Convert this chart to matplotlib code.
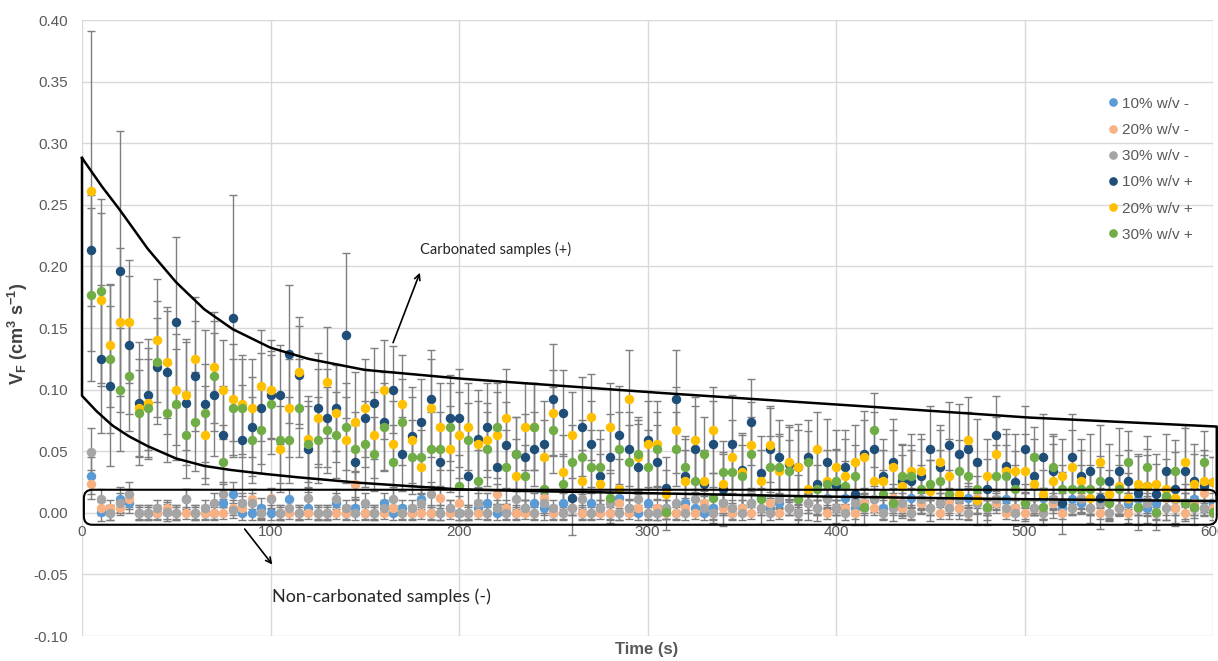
import numpy as np
import matplotlib
matplotlib.use("Agg")
import matplotlib.pyplot as plt
from matplotlib.patches import FancyBboxPatch

plt.rcParams['font.family'] = ['Liberation Sans', 'DejaVu Sans']
plt.rcParams['mathtext.fontset'] = 'custom'
plt.rcParams['mathtext.rm'] = 'Liberation Sans:bold'
plt.rcParams['mathtext.it'] = 'Liberation Sans:bold'
plt.rcParams['mathtext.bf'] = 'Liberation Sans:bold'
plt.rcParams['mathtext.default'] = 'rm'

# sampling times (s)
time_s = np.arange(5, 601, 5)

# 10% w/v - (non-carbonated)
v10_minus = [0.030, 0.001, 0.000, 0.011, 0.008, 0.000, 0.000, 0.000, 0.001, 0.000,
             0.011, 0.000, 0.000, 0.000, 0.008, 0.015, 0.000, 0.000, 0.004, 0.000,
             0.000, 0.011, 0.000, 0.004, 0.000, 0.000, 0.008, 0.000, 0.004, 0.000,
             0.000, 0.008, 0.000, 0.004, 0.000, 0.011, 0.000, 0.000, 0.004, 0.000,
             0.000, 0.004, 0.008, 0.000, 0.001, 0.000, 0.004, 0.008, 0.004, 0.000,
             0.008, 0.004, 0.000, 0.008, 0.004, 0.000, 0.012, 0.004, 0.000, 0.008,
             0.000, 0.004, 0.000, 0.008, 0.004, 0.000, 0.004, 0.008, 0.000, 0.004,
             0.008, 0.012, 0.004, 0.008, 0.004, 0.011, 0.008, 0.004, 0.012, 0.004,
             0.012, 0.004, 0.008, 0.011, 0.004, 0.008, 0.004, 0.012, 0.008, 0.004,
             0.008, 0.011, 0.004, 0.012, 0.008, 0.004, 0.008, 0.011, 0.004, 0.008,
             0.004, 0.012, 0.008, 0.004, 0.011, 0.008, 0.004, 0.012, 0.008, 0.004,
             0.008, 0.011, 0.004, 0.008, 0.012, 0.004, 0.008, 0.011, 0.004, 0.008]
e10_minus = [0.015, 0.008, 0.006, 0.010, 0.008, 0.006, 0.006, 0.006, 0.008, 0.006,
             0.008, 0.006, 0.006, 0.006, 0.008, 0.010, 0.006, 0.006, 0.008, 0.006,
             0.006, 0.008, 0.006, 0.006, 0.006, 0.006, 0.008, 0.006, 0.006, 0.006,
             0.006, 0.008, 0.006, 0.006, 0.006, 0.008, 0.006, 0.006, 0.006, 0.006,
             0.006, 0.006, 0.008, 0.006, 0.006, 0.006, 0.006, 0.008, 0.006, 0.006,
             0.008, 0.006, 0.006, 0.008, 0.006, 0.006, 0.008, 0.006, 0.006, 0.008,
             0.006, 0.006, 0.006, 0.008, 0.006, 0.006, 0.006, 0.008, 0.006, 0.006,
             0.008, 0.008, 0.006, 0.008, 0.006, 0.008, 0.008, 0.006, 0.008, 0.006,
             0.008, 0.006, 0.008, 0.008, 0.006, 0.008, 0.006, 0.008, 0.008, 0.006,
             0.008, 0.008, 0.006, 0.008, 0.008, 0.006, 0.008, 0.008, 0.006, 0.008,
             0.006, 0.008, 0.008, 0.006, 0.008, 0.008, 0.006, 0.008, 0.008, 0.006,
             0.008, 0.008, 0.006, 0.008, 0.008, 0.006, 0.008, 0.008, 0.006, 0.008]

# 20% w/v - (non-carbonated)
v20_minus = [0.023, 0.004, 0.004, 0.004, 0.011, 0.000, 0.000, 0.000, 0.004, 0.000,
             0.000, 0.000, 0.000, 0.000, 0.000, 0.004, 0.004, 0.011, 0.000, 0.012,
             0.000, 0.000, 0.000, 0.000, 0.000, 0.000, 0.000, 0.000, 0.023, 0.000,
             0.000, 0.000, 0.004, 0.000, 0.000, 0.000, 0.000, 0.012, 0.000, 0.008,
             0.000, 0.000, 0.000, 0.015, 0.004, 0.000, 0.000, 0.000, 0.012, 0.000,
             0.000, 0.004, 0.000, 0.000, 0.000, 0.000, 0.008, 0.000, 0.004, 0.000,
             0.004, 0.000, 0.000, 0.004, 0.000, 0.008, 0.000, 0.004, 0.000, 0.004,
             0.000, 0.004, 0.008, 0.000, 0.004, 0.000, 0.008, 0.004, 0.000, 0.004,
             0.004, 0.000, 0.008, 0.004, 0.000, 0.012, 0.004, 0.000, 0.008, 0.004,
             0.000, 0.008, 0.004, 0.000, 0.012, 0.004, 0.008, 0.000, 0.004, 0.000,
             0.004, 0.000, 0.008, 0.000, 0.004, 0.012, 0.004, 0.000, 0.008, 0.004,
             0.000, 0.004, 0.008, 0.000, 0.012, 0.004, 0.000, 0.008, 0.016, 0.004]
e20_minus = [0.012, 0.006, 0.006, 0.006, 0.008, 0.005, 0.005, 0.005, 0.006, 0.005,
             0.005, 0.005, 0.005, 0.005, 0.005, 0.006, 0.006, 0.008, 0.005, 0.008,
             0.005, 0.005, 0.005, 0.005, 0.005, 0.005, 0.005, 0.005, 0.010, 0.005,
             0.005, 0.005, 0.006, 0.005, 0.005, 0.005, 0.005, 0.008, 0.005, 0.006,
             0.005, 0.005, 0.005, 0.008, 0.006, 0.005, 0.005, 0.005, 0.008, 0.005,
             0.005, 0.006, 0.005, 0.005, 0.005, 0.005, 0.006, 0.005, 0.006, 0.005,
             0.006, 0.005, 0.005, 0.006, 0.005, 0.006, 0.005, 0.006, 0.005, 0.006,
             0.005, 0.006, 0.006, 0.005, 0.006, 0.005, 0.006, 0.006, 0.005, 0.006,
             0.006, 0.005, 0.006, 0.006, 0.005, 0.008, 0.006, 0.005, 0.006, 0.006,
             0.005, 0.006, 0.006, 0.005, 0.008, 0.006, 0.006, 0.005, 0.006, 0.005,
             0.006, 0.005, 0.006, 0.005, 0.006, 0.008, 0.006, 0.005, 0.006, 0.006,
             0.005, 0.006, 0.006, 0.005, 0.008, 0.006, 0.005, 0.006, 0.008, 0.006]

# 30% w/v - (non-carbonated)
v30_minus = [0.049, 0.011, 0.000, 0.008, 0.015, 0.000, 0.000, 0.004, 0.001, 0.000,
             0.011, 0.000, 0.004, 0.008, 0.015, 0.002, 0.008, 0.008, 0.000, 0.011,
             0.000, 0.004, 0.000, 0.012, 0.000, 0.000, 0.011, 0.004, 0.000, 0.008,
             0.000, 0.004, 0.011, 0.000, 0.004, 0.008, 0.015, 0.000, 0.004, 0.000,
             0.000, 0.008, 0.000, 0.004, 0.000, 0.011, 0.004, 0.000, 0.008, 0.004,
             0.000, 0.004, 0.011, 0.000, 0.004, 0.008, 0.000, 0.004, 0.011, 0.000,
             0.000, 0.004, 0.008, 0.000, 0.011, 0.004, 0.000, 0.008, 0.004, 0.000,
             0.008, 0.004, 0.000, 0.011, 0.004, 0.000, 0.008, 0.004, 0.011, 0.004,
             0.000, 0.008, 0.004, 0.011, 0.000, 0.004, 0.008, 0.000, 0.011, 0.004,
             0.008, 0.004, 0.011, 0.000, 0.008, 0.004, 0.011, 0.004, 0.000, 0.008,
             0.004, 0.000, 0.011, 0.008, 0.004, 0.011, 0.004, 0.008, 0.000, 0.004,
             0.011, 0.004, 0.008, 0.000, 0.004, 0.011, 0.008, 0.004, 0.004, 0.000]
e30_minus = [0.020, 0.008, 0.006, 0.008, 0.010, 0.006, 0.006, 0.006, 0.006, 0.006,
             0.008, 0.006, 0.006, 0.008, 0.010, 0.006, 0.008, 0.008, 0.006, 0.008,
             0.006, 0.006, 0.006, 0.008, 0.006, 0.006, 0.008, 0.006, 0.006, 0.008,
             0.006, 0.006, 0.008, 0.006, 0.006, 0.008, 0.010, 0.006, 0.006, 0.006,
             0.006, 0.008, 0.006, 0.006, 0.006, 0.008, 0.006, 0.006, 0.008, 0.006,
             0.006, 0.006, 0.008, 0.006, 0.006, 0.008, 0.006, 0.006, 0.008, 0.006,
             0.006, 0.006, 0.008, 0.006, 0.008, 0.006, 0.006, 0.008, 0.006, 0.006,
             0.008, 0.006, 0.006, 0.008, 0.006, 0.006, 0.008, 0.006, 0.008, 0.006,
             0.006, 0.008, 0.006, 0.008, 0.006, 0.006, 0.008, 0.006, 0.008, 0.006,
             0.008, 0.006, 0.008, 0.006, 0.008, 0.006, 0.008, 0.006, 0.006, 0.008,
             0.006, 0.006, 0.008, 0.008, 0.006, 0.008, 0.006, 0.008, 0.006, 0.006,
             0.008, 0.006, 0.008, 0.006, 0.006, 0.008, 0.008, 0.006, 0.006, 0.006]

# 10% w/v + (carbonated)
v10_plus = [0.213, 0.125, 0.103, 0.196, 0.136, 0.089, 0.096, 0.118, 0.114, 0.155,
            0.089, 0.111, 0.088, 0.096, 0.063, 0.158, 0.059, 0.070, 0.085, 0.096,
            0.096, 0.129, 0.112, 0.052, 0.085, 0.077, 0.085, 0.144, 0.041, 0.077,
            0.089, 0.074, 0.100, 0.048, 0.062, 0.074, 0.092, 0.041, 0.077, 0.077,
            0.030, 0.060, 0.070, 0.037, 0.055, 0.048, 0.045, 0.052, 0.056, 0.092,
            0.081, 0.012, 0.070, 0.056, 0.030, 0.045, 0.063, 0.052, 0.037, 0.059,
            0.041, 0.020, 0.092, 0.030, 0.052, 0.023, 0.056, 0.019, 0.056, 0.035,
            0.074, 0.032, 0.052, 0.045, 0.040, 0.037, 0.045, 0.023, 0.041, 0.022,
            0.037, 0.015, 0.048, 0.052, 0.030, 0.041, 0.026, 0.026, 0.030, 0.052,
            0.037, 0.055, 0.048, 0.052, 0.041, 0.019, 0.063, 0.038, 0.025, 0.052,
            0.030, 0.045, 0.034, 0.008, 0.045, 0.030, 0.034, 0.012, 0.026, 0.034,
            0.026, 0.016, 0.022, 0.015, 0.034, 0.019, 0.034, 0.026, 0.022, 0.025]
e10_plus = [0.045, 0.060, 0.065, 0.114, 0.056, 0.050, 0.045, 0.040, 0.050, 0.069,
            0.050, 0.045, 0.060, 0.050, 0.040, 0.100, 0.045, 0.040, 0.045, 0.035,
            0.040, 0.056, 0.040, 0.035, 0.045, 0.040, 0.035, 0.067, 0.030, 0.040,
            0.045, 0.040, 0.035, 0.030, 0.040, 0.035, 0.040, 0.030, 0.035, 0.040,
            0.030, 0.040, 0.035, 0.030, 0.035, 0.030, 0.035, 0.030, 0.035, 0.045,
            0.035, 0.030, 0.040, 0.035, 0.030, 0.035, 0.040, 0.030, 0.035, 0.040,
            0.030, 0.025, 0.040, 0.030, 0.035, 0.025, 0.035, 0.030, 0.040, 0.030,
            0.035, 0.030, 0.035, 0.030, 0.030, 0.035, 0.030, 0.030, 0.035, 0.030,
            0.030, 0.025, 0.035, 0.030, 0.030, 0.035, 0.030, 0.025, 0.030, 0.035,
            0.030, 0.035, 0.040, 0.030, 0.035, 0.025, 0.032, 0.030, 0.025, 0.035,
            0.030, 0.035, 0.030, 0.025, 0.035, 0.030, 0.030, 0.025, 0.030, 0.035,
            0.025, 0.030, 0.030, 0.025, 0.030, 0.030, 0.035, 0.030, 0.025, 0.020]

# 20% w/v + (carbonated)
v20_plus = [0.261, 0.173, 0.136, 0.155, 0.155, 0.085, 0.089, 0.140, 0.122, 0.100,
            0.096, 0.125, 0.063, 0.118, 0.100, 0.092, 0.088, 0.085, 0.103, 0.100,
            0.052, 0.085, 0.114, 0.060, 0.077, 0.106, 0.081, 0.059, 0.074, 0.085,
            0.063, 0.100, 0.056, 0.088, 0.059, 0.037, 0.085, 0.070, 0.052, 0.063,
            0.070, 0.056, 0.059, 0.063, 0.077, 0.030, 0.070, 0.070, 0.045, 0.081,
            0.033, 0.063, 0.026, 0.078, 0.023, 0.070, 0.019, 0.092, 0.045, 0.056,
            0.056, 0.015, 0.067, 0.026, 0.059, 0.026, 0.067, 0.023, 0.045, 0.033,
            0.055, 0.026, 0.055, 0.034, 0.041, 0.037, 0.019, 0.052, 0.026, 0.037,
            0.030, 0.041, 0.045, 0.026, 0.026, 0.037, 0.022, 0.034, 0.034, 0.018,
            0.041, 0.030, 0.015, 0.059, 0.010, 0.030, 0.048, 0.034, 0.034, 0.034,
            0.023, 0.015, 0.026, 0.030, 0.037, 0.026, 0.012, 0.041, 0.015, 0.022,
            0.012, 0.023, 0.022, 0.023, 0.019, 0.012, 0.041, 0.023, 0.026, 0.025]
e20_plus = [0.130, 0.070, 0.050, 0.060, 0.050, 0.040, 0.045, 0.050, 0.045, 0.045,
            0.045, 0.050, 0.040, 0.045, 0.040, 0.045, 0.040, 0.040, 0.045, 0.040,
            0.035, 0.040, 0.045, 0.035, 0.040, 0.045, 0.040, 0.035, 0.040, 0.040,
            0.035, 0.040, 0.035, 0.040, 0.035, 0.030, 0.040, 0.035, 0.035, 0.035,
            0.035, 0.035, 0.030, 0.035, 0.040, 0.030, 0.035, 0.035, 0.030, 0.035,
            0.030, 0.035, 0.025, 0.035, 0.025, 0.035, 0.025, 0.040, 0.030, 0.035,
            0.035, 0.020, 0.035, 0.025, 0.035, 0.025, 0.035, 0.025, 0.030, 0.030,
            0.035, 0.025, 0.030, 0.030, 0.030, 0.030, 0.025, 0.030, 0.025, 0.030,
            0.030, 0.030, 0.030, 0.025, 0.025, 0.030, 0.025, 0.030, 0.030, 0.025,
            0.030, 0.030, 0.020, 0.035, 0.020, 0.030, 0.030, 0.030, 0.030, 0.030,
            0.025, 0.020, 0.030, 0.030, 0.030, 0.025, 0.020, 0.030, 0.020, 0.025,
            0.020, 0.025, 0.025, 0.025, 0.025, 0.020, 0.030, 0.025, 0.025, 0.020]

# 30% w/v + (carbonated)
v30_plus = [0.177, 0.180, 0.125, 0.100, 0.111, 0.081, 0.085, 0.122, 0.081, 0.088,
            0.063, 0.074, 0.081, 0.111, 0.041, 0.085, 0.085, 0.059, 0.067, 0.088,
            0.059, 0.059, 0.085, 0.056, 0.059, 0.067, 0.063, 0.070, 0.052, 0.056,
            0.048, 0.070, 0.041, 0.074, 0.045, 0.045, 0.052, 0.052, 0.070, 0.022,
            0.059, 0.026, 0.052, 0.070, 0.037, 0.048, 0.030, 0.070, 0.019, 0.067,
            0.023, 0.041, 0.045, 0.037, 0.037, 0.012, 0.052, 0.041, 0.048, 0.037,
            0.052, 0.001, 0.052, 0.037, 0.026, 0.048, 0.012, 0.033, 0.033, 0.030,
            0.048, 0.011, 0.037, 0.037, 0.034, 0.011, 0.041, 0.019, 0.023, 0.026,
            0.022, 0.030, 0.005, 0.067, 0.015, 0.008, 0.030, 0.030, 0.019, 0.023,
            0.026, 0.015, 0.034, 0.030, 0.019, 0.005, 0.030, 0.030, 0.019, 0.008,
            0.045, 0.005, 0.037, 0.019, 0.019, 0.019, 0.019, 0.026, 0.008, 0.019,
            0.041, 0.005, 0.037, 0.001, 0.014, 0.034, 0.008, 0.005, 0.041, 0.001]
e30_plus = [0.070, 0.075, 0.060, 0.050, 0.045, 0.035, 0.040, 0.050, 0.040, 0.045,
            0.035, 0.040, 0.040, 0.045, 0.030, 0.040, 0.040, 0.035, 0.035, 0.040,
            0.035, 0.035, 0.040, 0.035, 0.035, 0.035, 0.035, 0.035, 0.030, 0.035,
            0.030, 0.035, 0.030, 0.035, 0.030, 0.030, 0.030, 0.030, 0.035, 0.025,
            0.030, 0.025, 0.030, 0.035, 0.030, 0.030, 0.025, 0.035, 0.025, 0.035,
            0.025, 0.030, 0.030, 0.030, 0.030, 0.020, 0.030, 0.030, 0.030, 0.030,
            0.030, 0.015, 0.030, 0.025, 0.025, 0.030, 0.020, 0.025, 0.025, 0.025,
            0.030, 0.020, 0.025, 0.025, 0.025, 0.020, 0.025, 0.020, 0.020, 0.025,
            0.020, 0.025, 0.015, 0.030, 0.020, 0.015, 0.025, 0.025, 0.020, 0.020,
            0.025, 0.020, 0.025, 0.025, 0.020, 0.015, 0.025, 0.025, 0.020, 0.015,
            0.025, 0.015, 0.025, 0.020, 0.020, 0.020, 0.020, 0.020, 0.015, 0.020,
            0.025, 0.015, 0.025, 0.015, 0.020, 0.025, 0.015, 0.015, 0.025, 0.010]

labels = ["10% w/v -", "20% w/v -", "30% w/v -", "10% w/v +", "20% w/v +", "30% w/v +"]
colors = ["#5B9BD5", "#F8B183", "#A5A5A5", "#1F4E79", "#FFC000", "#70AD47"]
values = [v10_minus, v20_minus, v30_minus, v10_plus, v20_plus, v30_plus]
errors = [e10_minus, e20_minus, e30_minus, e10_plus, e20_plus, e30_plus]

# hand-drawn guide shapes (annotation, not data)
upper_t = [0, 10, 20, 35, 50, 65, 80, 100, 120, 150, 200, 250, 300, 400, 500, 602]
upper_v = [0.288, 0.266, 0.246, 0.214, 0.187, 0.165, 0.149, 0.134, 0.125, 0.116,
           0.109, 0.1035, 0.098, 0.088, 0.0775, 0.070]
lower_t = [0, 8, 16, 25, 35, 50, 65, 80, 100, 120, 150, 200, 240, 300, 400, 500, 602]
lower_v = [0.095, 0.082, 0.071, 0.062, 0.054, 0.044, 0.038, 0.0345, 0.031, 0.028,
           0.024, 0.019, 0.0175, 0.016, 0.013, 0.011, 0.0095]

fig = plt.figure(figsize=(12.18, 6.61), dpi=100)
ax = fig.add_axes([82 / 1218, 25 / 661, 1131 / 1218, 616 / 661])

for v, e in zip(values, errors):
    ax.errorbar(time_s, v, yerr=e, fmt='none', ecolor='#7f7f7f', elinewidth=1,
                capsize=3, capthick=1, zorder=2)
for v, c, lab in zip(values, colors, labels):
    ax.plot(time_s, v, 'o', color=c, markersize=5.8, label=lab, zorder=3)

ax.set_xlim(0, 600)
ax.set_ylim(-0.10, 0.40)
ax.set_xticks(range(0, 601, 100))
ax.set_yticks(np.arange(-0.10, 0.401, 0.05))
ax.yaxis.set_major_formatter(plt.FormatStrFormatter('%.2f'))
for s in ax.spines.values():
    s.set_visible(False)
ax.spines['bottom'].set_position(('data', 0))
ax.grid(True, color='#d9d9d9', lw=1)
ax.set_axisbelow(True)
ax.tick_params(axis='x', length=0, pad=9, labelcolor='#595959', labelsize=11)
ax.tick_params(axis='y', length=0, pad=10, labelcolor='#595959', labelsize=11)

ax.set_xlabel("Time (s)", fontsize=12, fontweight='bold', color='#595959')
ax.xaxis.set_label_coords(0.4996, -0.01)
ax.set_ylabel(r"V$_{F}$ (cm$^{3}$ s$^{-1}$)", fontsize=13, fontweight='bold', color='#404040')
ax.yaxis.set_label_coords(-0.046, 0.49)

# guide shapes
ft = np.linspace(0, 602, 400)
up = np.interp(ft, upper_t, upper_v)
lo = np.interp(ft, lower_t, lower_v)
ax.plot(np.r_[ft, ft[::-1], ft[:1]], np.r_[up, lo[::-1], up[:1]], color='black',
        lw=1.8, clip_on=False, zorder=5)
box = FancyBboxPatch((1, -0.0097), 601, 0.0284,
                     boxstyle="round,pad=0,rounding_size=4.5", mutation_aspect=0.0015,
                     fc='none', ec='black', lw=1.5, clip_on=False, zorder=5)
ax.add_patch(box)

ax.annotate("", xy=(179.8, 0.197), xytext=(164.5, 0.136),
            arrowprops=dict(arrowstyle='->', lw=1.2, color='black'), zorder=6)
ax.text(179.5, 0.2135, "Carbonated samples (+)", fontsize=10.5, family='Lato',
        color='#262626', va='center', ha='left')
ax.annotate("", xy=(101.9, -0.0438), xytext=(85.4, -0.0114),
            arrowprops=dict(arrowstyle='->', lw=1.2, color='black'), zorder=6)
ax.text(101, -0.0682, "Non-carbonated samples (-)", fontsize=13, family='Lato',
        color='#262626', va='center', ha='left')

ax.legend(loc='upper left', bbox_to_anchor=(1099 / 1218, 1 - 89 / 661),
          bbox_transform=fig.transFigure, frameon=False, fontsize=11,
          labelcolor='#595959', handlelength=0.8, handletextpad=0.2,
          borderpad=0, labelspacing=0.8, markerscale=0.9)

fig.savefig("out.png", dpi=100)
